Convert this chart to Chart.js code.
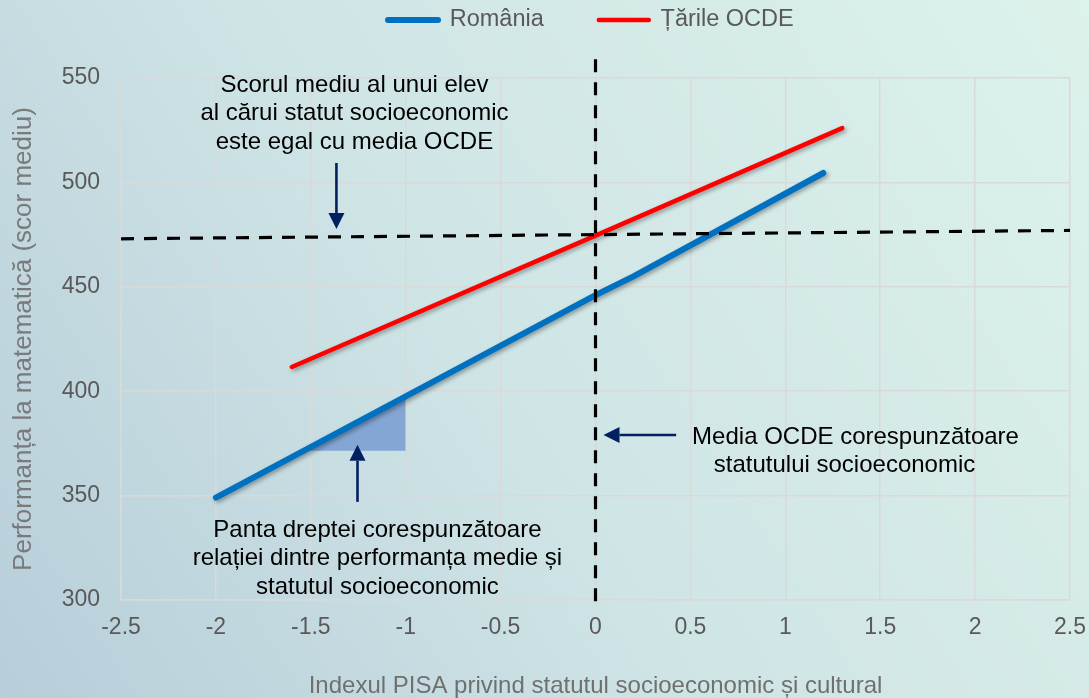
<!DOCTYPE html>
<html><head><meta charset="utf-8">
<script src="https://cdn.jsdelivr.net/npm/chart.js@4"></script>
<style>html,body{margin:0;padding:0;overflow:hidden;background:#cfe4e5}#wrap{width:1089px;height:698px;position:relative}</style>
</head><body><div id="wrap"><canvas id="c"></canvas></div>
<script>
// ---- data ----
const seriesNames = ['România', 'Țările OCDE'];
const romaniaX = [-2, -1, 0, 0.2, 1.2];
const romaniaY = [349, 397.5, 446, 455, 504.5];
const ocdeX = [-1.6, 0, 1.3];
const ocdeY = [411.6, 474.5, 526];
const oecdMeanScoreX = [-2.5, 2.5];
const oecdMeanScoreY = [473, 477];
const oecdMeanSesX = [0, 0];
const oecdMeanSesY = [559, 295];
const slopeX = [-1.536, -1];
const slopeY = [371.5, 397.5];
const slopeBase = 371.5;
const xTicks = [-2.5, -2, -1.5, -1, -0.5, 0, 0.5, 1, 1.5, 2, 2.5];
const yTicks = [300, 350, 400, 450, 500, 550];
const xTitle = 'Indexul PISA privind statutul socioeconomic și cultural';
const yTitle = 'Performanța la matematică (scor mediu)';
const noteLines = [
  {text: 'Scorul mediu al unui elev', x: -1.27, y: 543.3, row: 0},
  {text: 'al cărui statut socioeconomic', x: -1.27, y: 543.3, row: 1},
  {text: 'este egal cu media OCDE', x: -1.27, y: 543.3, row: 2},
  {text: 'Panta dreptei corespunzătoare', x: -1.149, y: 330.2, row: 0},
  {text: 'relației dintre performanța medie și', x: -1.149, y: 330.2, row: 1},
  {text: 'statutul socioeconomic', x: -1.149, y: 330.2, row: 2},
  {text: 'Media OCDE corespunzătoare', x: 1.37, y: 374.9, row: 0},
  {text: 'statutului socioeconomic', x: 1.312, y: 374.9, row: 1}
];
const arrows = [
  {x1: -1.365, y1: 509.3, x2: -1.365, y2: 477.7},
  {x1: -1.254, y1: 347.0, x2: -1.254, y2: 374.3},
  {x1: 0.425, y1: 379.0, x2: 0.042, y2: 379.0}
];

const FONT = '"Liberation Sans", Arial, sans-serif';
const toPts = (xs, ys) => xs.map((x, i) => ({x: x, y: ys[i]}));

const decor = {
  id: 'decor',
  beforeDraw(chart) {
    const {ctx, width, height} = chart;
    const g = ctx.createLinearGradient(0, height, width, 0);
    g.addColorStop(0, '#b7ceda');
    g.addColorStop(0.45, '#cfe4e5');
    g.addColorStop(1, '#dcf2eb');
    ctx.save(); ctx.fillStyle = g; ctx.fillRect(0, 0, width, height); ctx.restore();
  },
  afterLayout(chart) {
    const l = chart.legend;
    if (!l || !l.lineWidths) return;
    const pad = l.options.labels.padding;
    const start = (l.left + pad + l.right - l.lineWidths[0]) / 2;
    const dx = 388 - start;
    const dy = 20 - (l.top + pad + l.options.labels.font.size / 2);
    l.left += dx; l.right += dx; l.top += dy; l.bottom += dy;
  },
  beforeDatasetDraw(chart, args) {
    if (args.index === 2 || args.index === 3) {
      const ctx = chart.ctx;
      ctx.save();
      ctx.shadowColor = 'rgba(0,0,0,0.35)';
      ctx.shadowBlur = 4; ctx.shadowOffsetX = 2; ctx.shadowOffsetY = 2;
    }
  },
  afterDatasetDraw(chart, args) {
    if (args.index === 2 || args.index === 3) chart.ctx.restore();
  },
  afterDatasetsDraw(chart) {
    const ctx = chart.ctx, xs = chart.scales.x, ys = chart.scales.y;
    ctx.save();
    ctx.strokeStyle = '#002060'; ctx.fillStyle = '#002060'; ctx.lineWidth = 2.6;
    arrows.forEach(a => {
      const x1 = xs.getPixelForValue(a.x1), y1 = ys.getPixelForValue(a.y1);
      const x2 = xs.getPixelForValue(a.x2), y2 = ys.getPixelForValue(a.y2);
      const ang = Math.atan2(y2 - y1, x2 - x1), L = 16, W = 8;
      const bx = x2 - L * Math.cos(ang), by = y2 - L * Math.sin(ang);
      ctx.beginPath(); ctx.moveTo(x1, y1); ctx.lineTo(bx, by); ctx.stroke();
      ctx.beginPath(); ctx.moveTo(x2, y2);
      ctx.lineTo(bx + W * Math.sin(ang), by - W * Math.cos(ang));
      ctx.lineTo(bx - W * Math.sin(ang), by + W * Math.cos(ang));
      ctx.closePath(); ctx.fill();
    });
    ctx.fillStyle = '#000000';
    ctx.font = '24px ' + FONT;
    ctx.textAlign = 'center'; ctx.textBaseline = 'alphabetic';
    noteLines.forEach(n => {
      ctx.fillText(n.text, xs.getPixelForValue(n.x), ys.getPixelForValue(n.y) + n.row * 28.5);
    });
    ctx.restore();
  }
};

new Chart(document.getElementById('c'), {
  type: 'line',
  data: {
    datasets: [
      {label: 'meanSes', data: toPts(oecdMeanSesX, oecdMeanSesY), borderColor: '#000000', borderWidth: 3.2,
       borderDash: [13, 10], pointRadius: 0, fill: false, clip: false},
      {label: 'meanScore', data: toPts(oecdMeanScoreX, oecdMeanScoreY), borderColor: '#000000', borderWidth: 3.2,
       borderDash: [13, 10], pointRadius: 0, fill: false},
      {label: seriesNames[0], data: toPts(romaniaX, romaniaY), borderColor: '#0070c0', borderWidth: 6,
       borderCapStyle: 'round', borderJoinStyle: 'round', pointRadius: 0, fill: false},
      {label: seriesNames[1], data: toPts(ocdeX, ocdeY), borderColor: '#ff0000', borderWidth: 4.5,
       borderCapStyle: 'round', borderJoinStyle: 'round', pointRadius: 0, fill: false},
      {label: 'slope', data: toPts(slopeX, slopeY), borderWidth: 0, borderColor: 'rgba(0,0,0,0)',
       backgroundColor: '#84a6d5', pointRadius: 0, fill: {value: slopeBase}}
    ]
  },
  options: {
    responsive: true, maintainAspectRatio: false, animation: false,
    layout: {padding: {left: 0, right: 19, top: -10.5, bottom: 0}},
    plugins: {
      tooltip: {enabled: false},
      legend: {
        position: 'top',
        labels: {
          usePointStyle: true, pointStyleWidth: 50, padding: 55,
          font: {size: 23.5, family: FONT}, color: '#595959',
          generateLabels: (chart) => [2, 3].map(i => {
            const ds = chart.data.datasets[i];
            return {text: ds.label, fillStyle: ds.borderColor, strokeStyle: ds.borderColor,
              lineWidth: ds.borderWidth, lineCap: 'round', pointStyle: 'line',
              fontColor: '#595959', hidden: false, datasetIndex: i};
          })
        }
      }
    },
    scales: {
      x: {
        type: 'linear', min: -2.5, max: 2.5,
        afterBuildTicks: s => { s.ticks = xTicks.map(v => ({value: v})); },
        afterFit: s => { s.height = 98; s.paddingLeft = 0; s.paddingRight = 0; },
        ticks: {color: '#595959', font: {size: 23, family: FONT}, padding: 14, maxRotation: 0, autoSkip: false,
          callback: v => String(v)},
        grid: {color: '#d9d9d9', lineWidth: 1.5, drawTicks: false},
        border: {display: true, color: '#d9d9d9', width: 1.5},
        title: {display: true, text: xTitle, color: '#707070', font: {size: 24, family: FONT},
          padding: {top: 0, bottom: -3}}
      },
      y: {
        type: 'linear', min: 300, max: 550,
        afterBuildTicks: s => { s.ticks = yTicks.map(v => ({value: v})); },
        afterFit: s => { s.width = 121; },
        ticks: {color: '#595959', font: {size: 23, family: FONT}, padding: 21, autoSkip: false,
          callback: v => String(v)},
        grid: {color: '#d9d9d9', lineWidth: 1.5, drawTicks: false},
        border: {display: true, color: '#d9d9d9', width: 1.5},
        title: {display: true, text: yTitle, color: '#7a7a7a', font: {size: 26, family: FONT},
          padding: {top: 8, bottom: 0}}
      }
    }
  },
  plugins: [decor]
});
</script>
</body></html>
